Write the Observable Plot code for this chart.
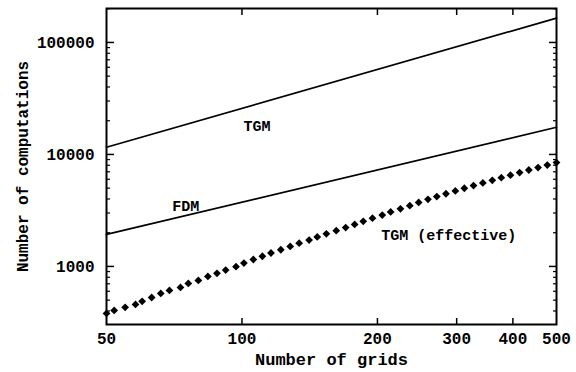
<!DOCTYPE html>
<html>
<head>
<meta charset="utf-8">
<script src="https://cdn.jsdelivr.net/npm/d3@7"></script>
<script src="https://cdn.jsdelivr.net/npm/@observablehq/plot@0.6"></script>
<style>
  html, body { margin: 0; padding: 0; background: #fff; }
  svg { font-family: "Liberation Mono", monospace; font-weight: bold; }
</style>
</head>
<body>
<div id="chart"></div>
<script>
// Solid lines (straight in log-log): grid counts and computations
const lineGrids = [50, 500];
const tgmValues = [11600, 165000];
const fdmValues = [1930, 17500];

// TGM (effective): diamond markers
const effGrids = [50, 52, 55, 58, 60, 63, 66, 69, 73, 76, 80, 84, 88, 92, 97, 101, 106, 111, 116, 122,
  128, 134, 141, 147, 154, 162, 170, 178, 186, 195, 205, 214, 225, 236, 247, 259, 271, 284, 298, 312,
  327, 343, 360, 377, 395, 414, 434, 455, 477, 500];
const effValues = [380, 405, 431, 458, 488, 528, 574, 611, 650, 705, 750, 815, 867, 929, 995, 1072, 1153, 1233, 1318, 1409,
  1507, 1611, 1718, 1832, 1954, 2084, 2223, 2371, 2529, 2698, 2877, 3069, 3273, 3491, 3724, 3972, 4207, 4457, 4721, 4989,
  5272, 5572, 5875, 6194, 6531, 6887, 7261, 7638, 8035, 8453];

// Axis ticks
const xTickLabels = [50, 100, 200, 300, 400, 500];
const xTickMarks = [100, 200, 300, 400];
const yTickLabels = [1000, 10000, 100000];
const yMinorTicks = [400, 500, 600, 700, 800, 900, 2000, 3000, 4000, 5000, 6000, 7000, 8000, 9000,
  20000, 30000, 40000, 50000, 60000, 70000, 80000, 90000, 200000];

// Curve labels
const curveLabels = [
  {text: "TGM", x: 108, y: 17800},
  {text: "FDM", x: 75, y: 3430},
  {text: "TGM (effective)", x: 288, y: 1890}
];

const xTitle = "Number of grids";
const yTitle = "Number of computations";

const tgm = lineGrids.map((g, i) => ({g, v: tgmValues[i]}));
const fdm = lineGrids.map((g, i) => ({g, v: fdmValues[i]}));
const eff = effGrids.map((g, i) => ({g, v: effValues[i]}));

const chart = Plot.plot({
  width: 576,
  height: 372,
  marginLeft: 106,
  marginRight: 20,
  marginTop: 8,
  marginBottom: 48,
  style: {fontFamily: "Liberation Mono, monospace", fontWeight: "bold", fontSize: "16px", background: "#fff"},
  x: {type: "log", domain: [50, 500]},
  y: {type: "log", domain: [303, 201000]},
  marks: [
    // x axis: inward tick marks bottom and top, labels below
    Plot.axisX({anchor: "bottom", ticks: xTickMarks, tickSize: -6, strokeWidth: 1.5, tickFormat: () => "", label: null}),
    Plot.axisX({anchor: "top", ticks: xTickMarks, tickSize: -6, strokeWidth: 1.5, tickFormat: () => "", label: null}),
    Plot.axisX({anchor: "bottom", ticks: xTickLabels, tickSize: 0, tickPadding: 8, tickFormat: d => String(d), fontSize: 16, label: null}),
    // y axis: inward ticks left and right
    Plot.axisY({anchor: "left", ticks: yTickLabels, tickSize: -8, strokeWidth: 1.5, tickPadding: 20, tickFormat: d => String(d), fontSize: 16, label: null}),
    Plot.axisY({anchor: "left", ticks: yMinorTicks, tickSize: -4, strokeWidth: 1.2, tickFormat: () => "", label: null}),
    Plot.axisY({anchor: "right", ticks: yTickLabels, tickSize: -8, strokeWidth: 1.5, tickFormat: () => "", label: null}),
    Plot.axisY({anchor: "right", ticks: yMinorTicks, tickSize: -4, strokeWidth: 1.2, tickFormat: () => "", label: null}),
    Plot.frame({stroke: "#000", strokeWidth: 2}),
    Plot.line(tgm, {x: "g", y: "v", stroke: "#000", strokeWidth: 1.7}),
    Plot.line(fdm, {x: "g", y: "v", stroke: "#000", strokeWidth: 1.7}),
    Plot.dot(eff, {x: "g", y: "v", symbol: "square", rotate: 45, r: 3.1, fill: "#000", stroke: "none"}),
    Plot.text(curveLabels, {x: "x", y: "y", text: "text", fontSize: 15, fill: "#000", lineAnchor: "middle"}),
    Plot.text([xTitle], {frameAnchor: "bottom", text: d => d, dy: 35, fontSize: 17, fill: "#000", lineAnchor: "middle"}),
    Plot.text([yTitle], {frameAnchor: "left", textAnchor: "middle", text: d => d, rotate: -90, dx: -84, fontSize: 16, fill: "#000", lineAnchor: "middle"})
  ]
});
document.getElementById("chart").appendChild(chart);
</script>
</body>
</html>
